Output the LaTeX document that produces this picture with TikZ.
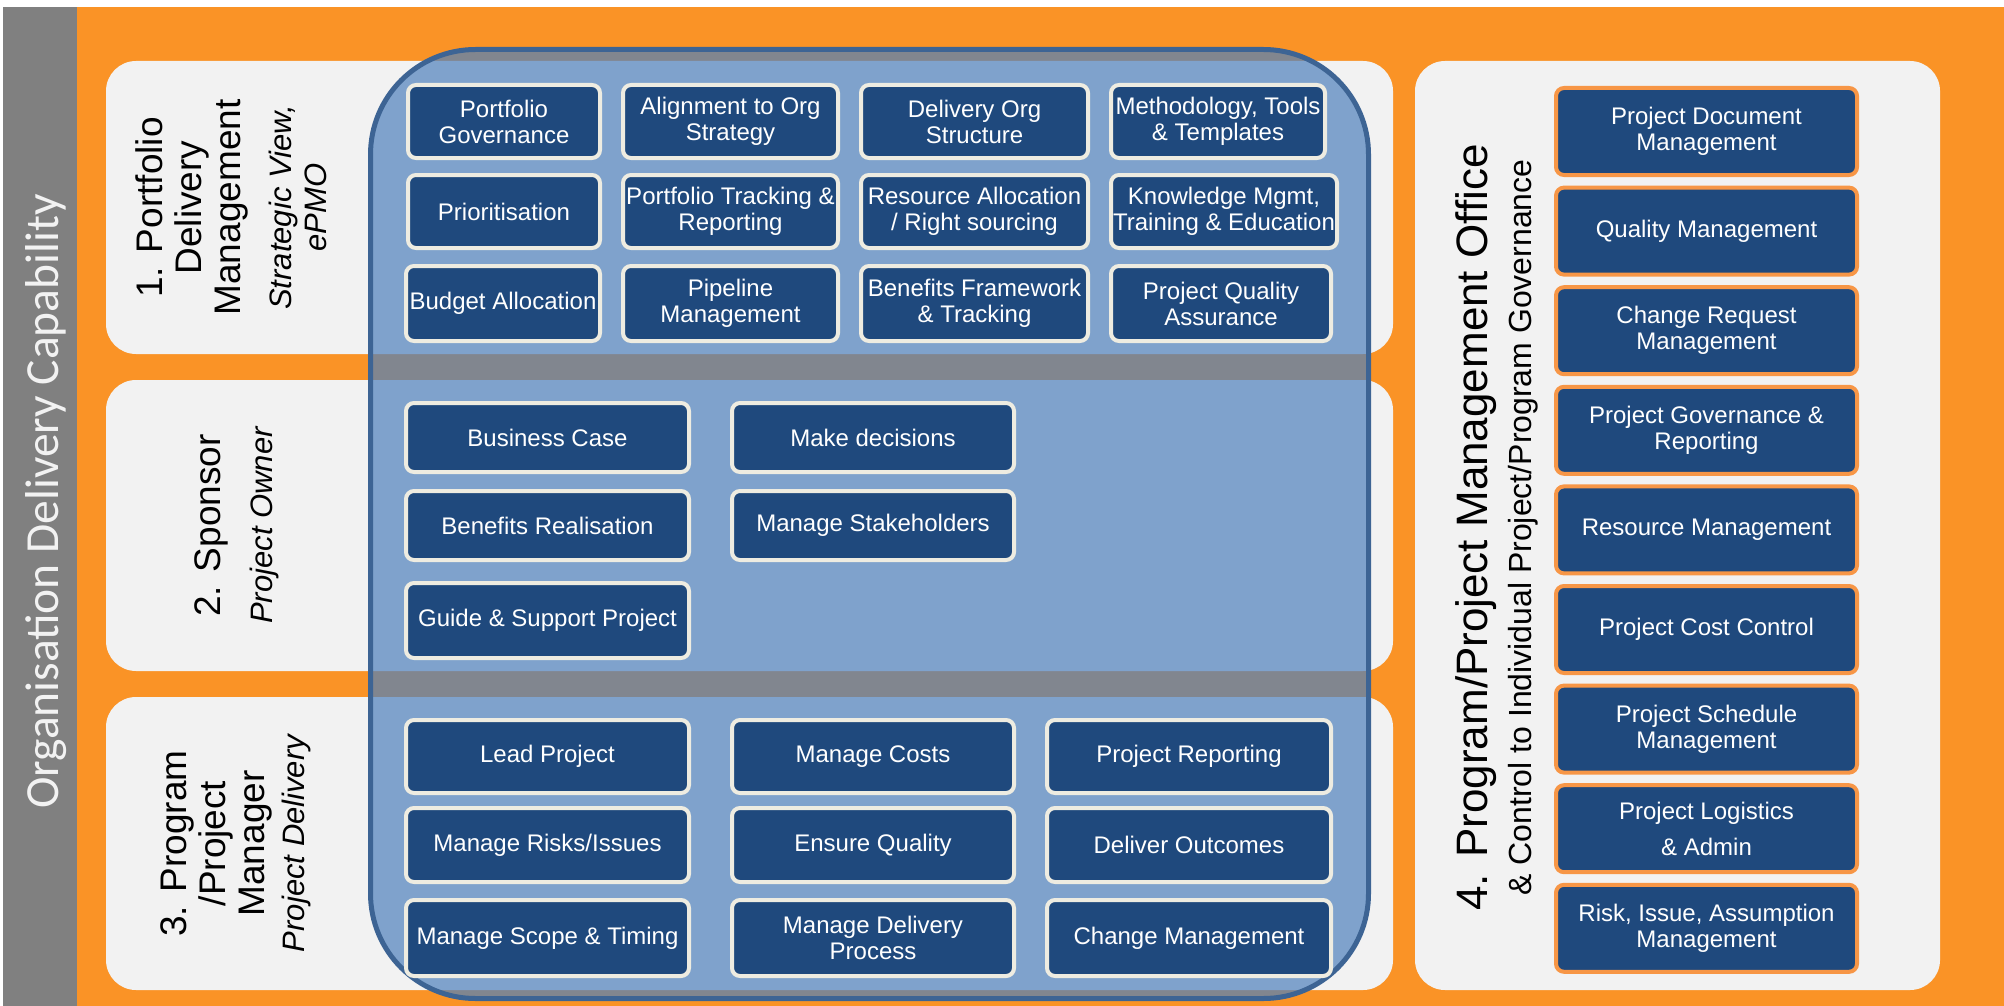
\documentclass[tikz,border=0pt]{standalone}
\usepackage{fontspec}
\setmainfont{Liberation Sans}
\newfontfamily\orgfont{Carlito}
\usetikzlibrary{positioning}
\definecolor{borange}{RGB}{250,147,38}
\definecolor{sgray}{RGB}{128,128,128}
\definecolor{pgray}{RGB}{242,242,242}
\definecolor{lblue}{RGB}{79,129,189}
\definecolor{eblue}{RGB}{61,100,148}
\definecolor{dblue}{RGB}{31,73,125}
\definecolor{cream}{RGB}{238,236,225}
\definecolor{lorange}{RGB}{247,150,70}
\tikzset{task/.style = {draw=cream, line width=4pt, fill=dblue, rounded corners=8pt, text=white, align=center, inner sep=0pt, font=\fontsize{24}{26}\selectfont}}
\tikzset{pmo/.style = {task, draw=lorange, minimum width=301pt, minimum height=87pt}}
\tikzset{panel/.style = {fill=pgray, rounded corners=30pt}}
\tikzset{ptitle/.style = {rotate=90, anchor=north, inner sep=0pt, align=center, font=\fontsize{37}{39}\selectfont}}
\tikzset{psub/.style = {ptitle, font=\fontsize{31}{35}\selectfont\itshape}}

\begin{document}
\begin{tikzpicture}[x=1pt, y=-1pt]
      \useasboundingbox (0,0) rectangle (2004,1006);
      \fill [borange] (77,7) rectangle (2004,1006);
      \fill [sgray] (3,7) rectangle (77,1006);
      \node [rotate=90, anchor=base, text=pgray, font=\orgfont\fontsize{47.5}{50}\selectfont] (org) at (58,501.5) {Organisation Delivery Capability};

      \fill [panel] (106,61) rectangle (1393,354);
      \fill [panel] (106,380) rectangle (1393,671);
      \fill [panel] (106,697) rectangle (1393,990);
      \fill [panel] (1415,61) rectangle (1940,990);

      \draw [eblue, line width=5pt, fill=lblue, fill opacity=0.7, rounded corners=105pt] (370.5,49.5) rectangle (1368.5,998.5);

      % panel titles
      \node [ptitle] (t1) at (135,207.5) {1. Portfolio\\Delivery\\Management};
      \node [psub] (s1) at (269,207.5) {Strategic View,\\ePMO};
      \node [ptitle] (t2) at (194,525.5) {2. Sponsor};
      \node [psub] (s2) at (250,525.5) {Project Owner};
      \node [ptitle] (t3) at (160,843.5) {3. Program\\/Project\\Manager};
      \node [psub] (s3) at (282,843.5) {Project Delivery};
      \node [rotate=90, anchor=base, font=\fontsize{44}{46}\selectfont] (t4) at (1487,527.5) {4. Program/Project Management Office};
      \node [rotate=90, anchor=base, font=\fontsize{32}{34}\selectfont] (s4) at (1531,527.5) {\& Control to Individual Project/Program Governance};

      % 1. portfolio
      \node [task, minimum width=192pt, minimum height=73pt] (pfgov) at (504,121.5) {Portfolio\\Governance};
      \node [task, minimum width=215pt, minimum height=73pt] (align) at (730.5,121.5) {Alignment to Org\\Strategy};
      \node [task, minimum width=227pt, minimum height=73pt] (dorg) at (974.5,121.5) {Delivery Org\\Structure};
      \node [task, minimum width=214pt, minimum height=73pt] (method) at (1218,121.5) {Methodology, Tools\\\& Templates};
      \node [task, minimum width=192pt, minimum height=73pt] (prio) at (504,211.5) {Prioritisation};
      \node [task, minimum width=215pt, minimum height=73pt] (ptrack) at (730.5,211.5) {Portfolio Tracking \&\\Reporting};
      \node [task, minimum width=227pt, minimum height=73pt] (resalloc) at (974.5,211.5) {Resource Allocation\\/ Right sourcing};
      \node [task, minimum width=226pt, minimum height=73pt] (know) at (1224,211.5) {Knowledge Mgmt,\\Training \& Education};
      \node [task, minimum width=194pt, minimum height=75pt] (budget) at (503,303.5) {Budget Allocation};
      \node [task, minimum width=215pt, minimum height=75pt] (pipe) at (730.5,303.5) {Pipeline\\Management};
      \node [task, minimum width=227pt, minimum height=75pt] (bframe) at (974.5,303.5) {Benefits Framework\\\& Tracking};
      \node [task, minimum width=220pt, minimum height=75pt] (pqa) at (1221,303.5) {Project Quality\\Assurance};

      % 2. sponsor
      \node [task, minimum width=283pt, minimum height=69pt] (bcase) at (547.5,437.5) {Business Case};
      \node [task, minimum width=282pt, minimum height=69pt] (decide) at (873,437.5) {Make decisions};
      \node [task, minimum width=283pt, minimum height=69pt] (breal) at (547.5,525.5) {Benefits Realisation};
      \node [task, minimum width=282pt, minimum height=69pt] (stake) at (873,525.5) {Manage Stakeholders};
      \node [task, minimum width=283pt, minimum height=75pt] (guide) at (547.5,620.5) {Guide \& Support Project};

      % 3. program/project manager
      \node [task, minimum width=283pt, minimum height=73pt] (lead) at (547.5,756.5) {Lead Project};
      \node [task, minimum width=282pt, minimum height=73pt] (costs) at (873,756.5) {Manage Costs};
      \node [task, minimum width=284pt, minimum height=73pt] (prep) at (1189,756.5) {Project Reporting};
      \node [task, minimum width=283pt, minimum height=74pt] (risks) at (547.5,845) {Manage Risks/Issues};
      \node [task, minimum width=282pt, minimum height=74pt] (quality) at (873,845) {Ensure Quality};
      \node [task, minimum width=284pt, minimum height=74pt] (outcomes) at (1189,845) {Deliver Outcomes};
      \node [task, minimum width=283pt, minimum height=76pt] (scope) at (547.5,938) {Manage Scope \& Timing};
      \node [task, minimum width=282pt, minimum height=76pt] (dproc) at (873,938) {Manage Delivery\\Process};
      \node [task, minimum width=284pt, minimum height=76pt] (change) at (1189,938) {Change Management};

      % 4. pmo
      \node [pmo] (pdoc) at (1706.5,131.5) {Project Document\\Management};
      \node [pmo] (qual) at (1706.5,231.1) {Quality Management};
      \node [pmo] (creq) at (1706.5,330.7) {Change Request\\Management};
      \node [pmo] (pgovr) at (1706.5,430.3) {Project Governance \&\\Reporting};
      \node [pmo] (resm) at (1706.5,529.9) {Resource Management};
      \node [pmo] (cost) at (1706.5,629.5) {Project Cost Control};
      \node [pmo] (sched) at (1706.5,729.1) {Project Schedule\\Management};
      \node [pmo] (logi) at (1706.5,828.7) {Project Logistics\\[10pt]\& Admin};
      \node [pmo] (raid) at (1706.5,928.3) {Risk, Issue, Assumption\\Management};
\end{tikzpicture}
\end{document}
